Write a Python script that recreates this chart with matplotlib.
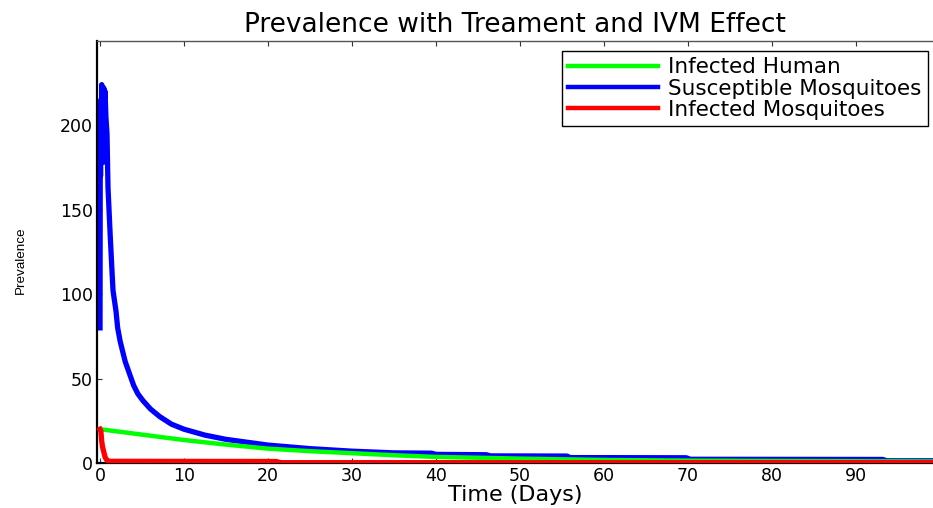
import matplotlib.pyplot as plt

# time (days) and prevalence for each compartment
t_blue = [0, 0.03, 0.06, 0.1, 0.15, 0.2, 0.25, 0.3, 0.38, 0.45, 0.52, 0.6, 0.7, 0.83,
          0.95, 1.2, 1.4, 1.55, 1.9, 2.1, 2.4, 3.0, 3.5, 4.0, 4.5, 5.1, 6.0, 7.1, 8.5,
          10, 12.5, 15, 20, 25, 30, 35, 39.5, 40, 46, 46.5, 55.6, 56, 69.8, 70.3,
          93.2, 93.7, 100]
susceptible_mosq = [80, 200, 170, 215, 180, 224, 185, 222, 178, 222, 190, 220, 205, 195,
                    163, 136, 116, 102, 90, 80, 72, 60, 53, 46, 41, 37, 32, 27.5, 23,
                    20, 16.5, 14, 10.6, 8.5, 7, 6, 5.8, 5.1, 4.9, 4.2, 4.1, 3.2, 3.1,
                    2.2, 2.1, 1.3, 1.3]

t_green = [0, 5, 10, 15, 20, 25, 30, 35, 40, 50, 60, 70, 80, 93, 100]
infected_human = [20, 16.8, 13.6, 10.9, 8.5, 7.0, 5.8, 4.6, 3.6, 2.6, 1.8, 1.4, 1.2, 1.0, 0.9]

t_red = [0, 0.1, 0.2, 0.3, 0.4, 0.6, 0.8, 1.0, 21, 21.5, 100]
infected_mosq = [20, 19, 13, 9.5, 7.5, 3.5, 1.8, 1.0, 0.9, 0.2, 0.2]

x_ticks = [0, 10, 20, 30, 40, 50, 60, 70, 80, 90]
y_ticks = [0, 50, 100, 150, 200]

plt.rcParams['font.family'] = ['DejaVu Sans']

fig = plt.figure(figsize=(9.33, 5.08), dpi=100)
ax = fig.add_axes([97 / 933, 45 / 508, 836 / 933, 422.3 / 508])

ax.plot(t_green, infected_human, color='#00ff00', lw=3.2, label='Infected Human', zorder=3)
ax.plot(t_blue, susceptible_mosq, color='#0000ff', lw=3.8, label='Susceptible Mosquitoes', zorder=2)
ax.plot(t_red, infected_mosq, color='#ff0000', lw=3.8, label='Infected Mosquitoes', zorder=4)

ax.set_xlim(-0.36, 99.2)
ax.set_ylim(0, 250)
ax.set_xticks(x_ticks)
ax.set_yticks(y_ticks)
ax.tick_params(direction='in', length=3.5, width=0.8, labelsize=12.5, top=True,
               colors='#333333', labelcolor='black', pad=3)

ax.spines['right'].set_visible(False)
ax.spines['top'].set_color('#555555')
ax.spines['top'].set_linewidth(1.0)
ax.spines['left'].set_linewidth(1.6)
ax.spines['bottom'].set_linewidth(1.6)

ax.set_title('Prevalence with Treament and IVM Effect', fontsize=19, pad=6)
ax.set_xlabel('Time (Days)', fontsize=16, labelpad=0)
ax.set_ylabel('Prevalence', fontsize=9.7, family=['Liberation Sans', 'DejaVu Sans'])
ax.yaxis.set_label_coords(-0.084, 0.48)

leg = ax.legend(loc='upper right', bbox_to_anchor=(0.994, 0.976), borderaxespad=0,
                fontsize=15.5, handlelength=4.2, handletextpad=0.45, labelspacing=0.06,
                borderpad=0.3, fancybox=False, framealpha=1, edgecolor='black')
leg.get_frame().set_linewidth(1.0)
for line in leg.get_lines():
    line.set_linewidth(3.2)

fig.savefig('out.png', dpi=100)
